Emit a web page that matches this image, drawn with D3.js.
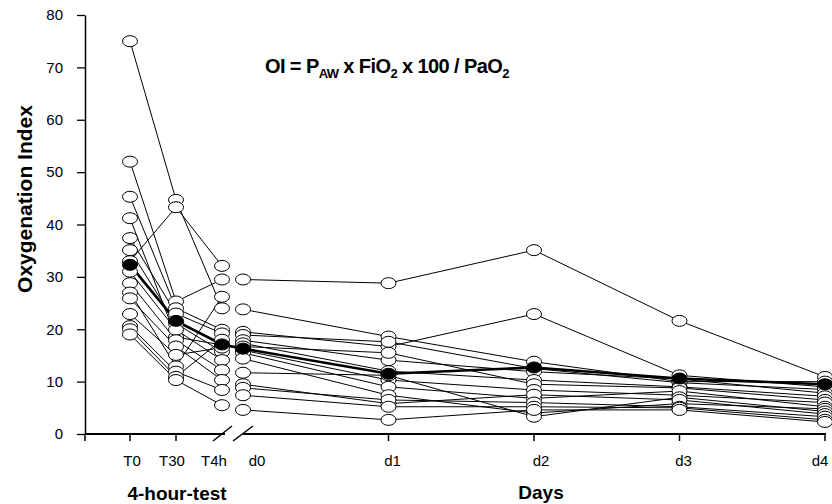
<!DOCTYPE html>
<html>
<head>
<meta charset="utf-8">
<script src="https://cdn.jsdelivr.net/npm/d3@7"></script>
<style>
  body { margin: 0; background: #fff; }
  text { font-family: Arial, "Liberation Sans", sans-serif; fill: #000; }
  .ind { fill: none; stroke: #000; stroke-width: 1; }
  .mean { fill: none; stroke: #000; stroke-width: 2.6; }
</style>
</head>
<body>
<svg width="832" height="504"></svg>
<script>
// time points
const testLabels = ["T0", "T30", "T4h"];
const dayLabels = ["d0", "d1", "d2", "d3", "d4"];
const yTicks = [0, 10, 20, 30, 40, 50, 60, 70, 80];

// individual patients, 4-hour-test (T0, T30, T4h)
const testSeries = [
    [75.0, 44.7, 24.0],
    [33.0, 43.3, 32.1],
    [52.0, 25.3, 29.5],
    [45.3, 24.0, 19.9],
    [41.2, 18.5, 17.0],
    [37.4, 23.0, 19.2],
    [35.1, 21.1, 15.7],
    [31.0, 19.9, 14.1],
    [28.8, 17.9, 12.2],
    [27.0, 12.9, 26.2],
    [25.9, 16.7, 10.3],
    [22.9, 15.1, 16.5],
    [20.6, 11.9, 8.4],
    [20.0, 10.9, 18.0],
    [19.0, 10.3, 5.5]
];

// individual patients, days (d0 .. d4)
const daySeries = [
    [29.5, 28.8, 35.1, 21.6, 10.9],
    [23.8, 18.6, 13.8, 10.0, 10.0],
    [19.5, 16.7, 22.9, 11.2, 9.0],
    [18.9, 17.6, 12.5, 9.8, 8.5],
    [17.9, 14.1, 11.9, 10.5, 7.8],
    [17.3, 12.0, 10.3, 9.0, 7.2],
    [16.7, 15.5, 9.5, 8.8, 6.5],
    [16.0, 10.3, 8.4, 7.4, 6.0],
    [15.5, 9.0, 6.8, 8.2, 5.2],
    [14.4, 7.4, 4.0, 5.8, 4.8],
    [11.7, 11.2, 3.3, 7.0, 4.3],
    [9.5, 5.8, 7.5, 6.5, 3.8],
    [8.8, 6.5, 6.0, 5.2, 3.3],
    [7.4, 5.2, 5.2, 5.0, 2.7],
    [4.6, 2.7, 4.6, 4.6, 2.3]
];

// mean curve
const testMean = [32.3, 21.6, 17.1];
const dayMean = [16.3, 11.5, 12.7, 10.6, 9.5];

const svg = d3.select("svg");

// scales
const y = d3.scaleLinear().domain([0, 80]).range([434, 15]);
const testX = d3.scaleLinear().domain([0, 2]).range([130, 222]);
const dayX = d3.scaleLinear().domain([0, 4]).range([243, 825]);
const x0 = 85;

const line = sx => d3.line().x((d, i) => sx(i)).y(d => y(d));

// y axis
svg.append("g")
    .attr("transform", `translate(${x0},0)`)
    .call(d3.axisLeft(y).tickValues(yTicks).tickSize(8).tickPadding(14).tickSizeOuter(0))
    .call(g => g.select(".domain").attr("stroke-width", 1.5))
    .call(g => g.selectAll("line").attr("stroke-width", 1.3))
    .call(g => g.selectAll("text").attr("font-size", 15).attr("font-family", "Arial, 'Liberation Sans', sans-serif"));

// x axis (broken)
const xa = svg.append("g").attr("stroke", "#000").attr("stroke-width", 2);
xa.append("line").attr("x1", x0).attr("x2", 225).attr("y1", y(0)).attr("y2", y(0));
xa.append("line").attr("x1", 243).attr("x2", dayX(4) + 1).attr("y1", y(0)).attr("y2", y(0));
xa.append("line").attr("x1", 213).attr("y1", 441).attr("x2", 232).attr("y2", 426).attr("stroke-width", 1.5);
xa.append("line").attr("x1", 233).attr("y1", 441).attr("x2", 253).attr("y2", 426).attr("stroke-width", 1.5);

const tickXs = [x0, testX(0), testX(1), dayX(1), dayX(2), dayX(3), dayX(4)];
xa.selectAll(".tk").data(tickXs).enter().append("line")
    .attr("stroke-width", 1.5)
    .attr("x1", d => d).attr("x2", d => d)
    .attr("y1", y(0)).attr("y2", y(0) + 7);

// x labels
const testDx = [2, -4, -8];
const dayDx = [14, 4, 7, 4, -5];
svg.append("g").selectAll("text").data(testLabels).enter().append("text")
    .attr("x", (d, i) => testX(i) + testDx[i]).attr("y", 466)
    .attr("text-anchor", "middle").attr("font-size", 15)
    .text(d => d);
svg.append("g").selectAll("text").data(dayLabels).enter().append("text")
    .attr("x", (d, i) => dayX(i) + dayDx[i]).attr("y", 466)
    .attr("text-anchor", "middle").attr("font-size", 15)
    .text(d => d);

svg.append("text").attr("x", 177).attr("y", 500).attr("text-anchor", "middle")
    .attr("font-size", 19).attr("font-weight", "bold").text("4-hour-test");
svg.append("text").attr("x", 541).attr("y", 499).attr("text-anchor", "middle")
    .attr("font-size", 19).attr("font-weight", "bold").text("Days");
svg.append("text").attr("transform", "translate(32,199) rotate(-90)")
    .attr("text-anchor", "middle").attr("font-size", 21).attr("font-weight", "bold")
    .text("Oxygenation Index");

// formula
const f = svg.append("text").attr("x", 265).attr("y", 73)
    .attr("font-size", 20).attr("font-weight", "bold").attr("letter-spacing", -0.6);
f.append("tspan").text("OI = P");
f.append("tspan").attr("font-size", 13).attr("dy", 5).text("AW");
f.append("tspan").attr("dy", -5).text(" x FiO");
f.append("tspan").attr("font-size", 13).attr("dy", 5).text("2");
f.append("tspan").attr("dy", -5).text(" x 100 / PaO");
f.append("tspan").attr("font-size", 13).attr("dy", 5).text("2");

// individual lines
const lines = svg.append("g");
lines.selectAll(".t").data(testSeries).enter().append("path")
    .attr("class", "ind").attr("d", line(testX));
lines.selectAll(".d").data(daySeries).enter().append("path")
    .attr("class", "ind").attr("d", line(dayX));

// mean line (connected across the break)
const meanPts = testMean.map((v, i) => [testX(i), y(v)])
    .concat(dayMean.map((v, i) => [dayX(i), y(v)]));
svg.append("path").attr("class", "mean").attr("d", d3.line()(meanPts));

// individual markers
const pts = [];
testSeries.forEach(s => s.forEach((v, i) => pts.push([testX(i), y(v)])));
daySeries.forEach(s => s.forEach((v, i) => pts.push([dayX(i), y(v)])));
svg.append("g").selectAll("ellipse").data(pts).enter().append("ellipse")
    .attr("cx", d => d[0]).attr("cy", d => d[1])
    .attr("rx", 7.5).attr("ry", 5.5)
    .attr("fill", "#fff").attr("stroke", "#000").attr("stroke-width", 1);

// mean markers
svg.append("g").selectAll("ellipse").data(meanPts).enter().append("ellipse")
    .attr("cx", d => d[0]).attr("cy", d => d[1])
    .attr("rx", 7.5).attr("ry", 5.5)
    .attr("fill", "#000").attr("stroke", "#000");
</script>
</body>
</html>
